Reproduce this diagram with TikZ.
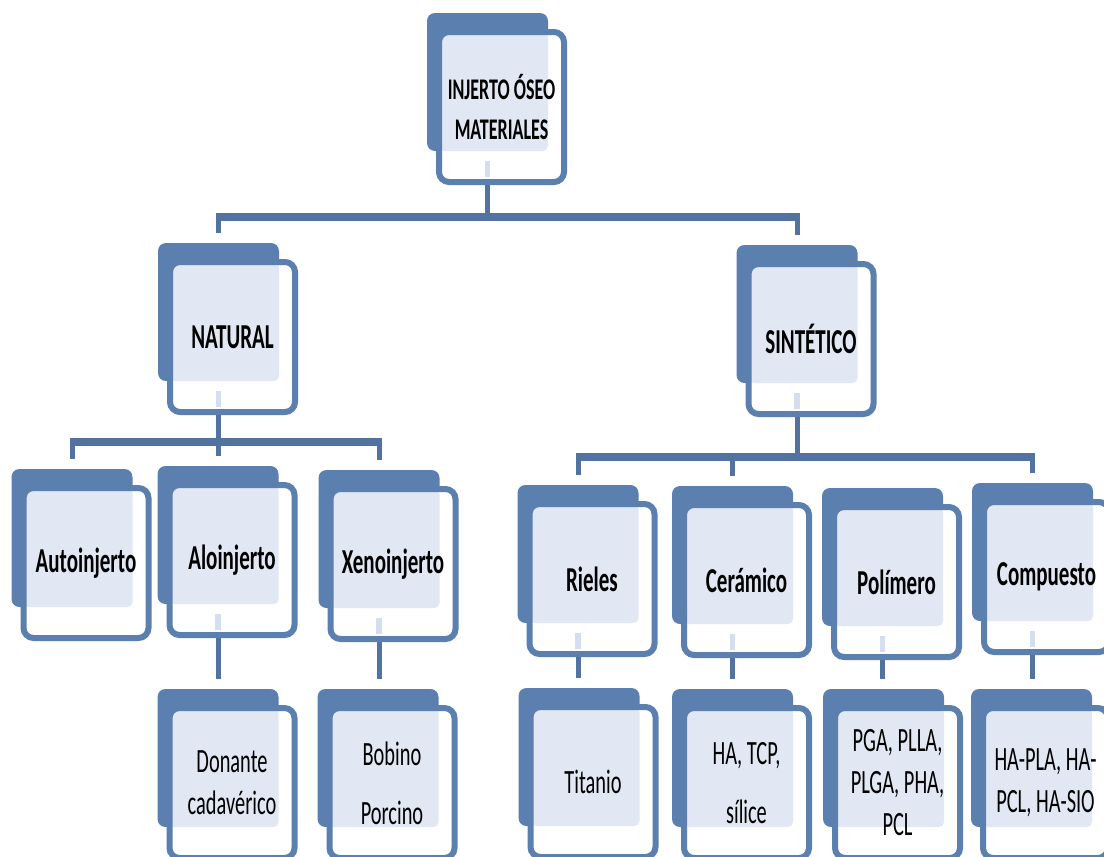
\documentclass[tikz,border=0pt]{standalone}
\usepackage{fontspec}
\setmainfont{Carlito}[FakeStretch=0.6]
\usetikzlibrary{positioning,calc}
\definecolor{ink}{HTML}{000000}
\definecolor{cardblue}{HTML}{5B7FAF}
\definecolor{linkblue}{HTML}{52739F}
\definecolor{cardfill}{HTML}{E1E7F3}
\definecolor{stubblue}{HTML}{D5DEEE}
\newcommand{\rootfont}{\bfseries\fontsize{30}{40}\selectfont}
\newcommand{\headfont}{\bfseries\fontsize{35}{43}\selectfont}
\newcommand{\leaffont}{\fontsize{34}{42}\selectfont}
\tikzset{
  every node/.style={text=ink},
  backcard/.style={
    fill=cardblue,
    rounded corners=8pt,
    minimum width=121pt,
    minimum height=138pt,
    inner sep=0pt
  },
  card/.style={
    draw=cardblue,
    fill=white,
    line width=6pt,
    rounded corners=10pt,
    minimum width=125pt,
    minimum height=150pt,
    inner sep=0pt,
    align=center,
    path picture={
      \fill[cardfill, rounded corners=5pt]
        (path picture bounding box.north west) rectangle
        ([xshift=-16pt, yshift=31pt]path picture bounding box.south east);
    }
  },
  head/.style={card, font=\headfont},
  leaf/.style={card, font=\leaffont},
  link/.style={draw=linkblue, line width=5pt},
  bar/.style={draw=linkblue, line width=8.5pt},
  stub/.style={draw=stubblue, line width=5.5pt}
}

\begin{document}
\begin{tikzpicture}[x=1pt, y=-1pt]
  \useasboundingbox (0,0) rectangle (1104,857);
  \clip (0,0) rectangle (1104,857);

  % Back plates
  \foreach \n/\x/\y in {root/487.5/82, nat/218.5/312, sin/797/314,
      auto/72/538, alo/218/535, xeno/379/539,
      riel/578/554, cer/732.5/555, pol/882.5/557, comp/1032.5/552,
      don/218/758, bob/378/758, tit/579/757, hat/732.5/758, pga/883.5/758, hapla/1031.5/758}
    \node[backcard] (\n B) at (\x,\y) {};

  % Front cards
  \node[card, font=\rootfont] (root) at ($(rootB)+(14,25)$) {INJERTO ÓSEO\\MATERIALES};
  \node[head] (nat) at ($(natB)+(14,25)$) {NATURAL};
  \node[head] (sin) at ($(sinB)+(14,25)$) {SINTÉTICO};

  \node[head] (auto) at ($(autoB)+(14,25)$) {Autoinjerto};
  \node[head] (alo) at ($(aloB)+(14,25)$) {Aloinjerto};
  \node[head] (xeno) at ($(xenoB)+(14,25)$) {Xenoinjerto};
  \node[head] (riel) at ($(rielB)+(14,25)$) {Rieles};
  \node[head] (cer) at ($(cerB)+(14,25)$) {Cerámico};
  \node[head] (pol) at ($(polB)+(14,25)$) {Polímero};
  \node[head] (comp) at ($(compB)+(14,25)$) {Compuesto};

  \node[leaf] (don) at ($(donB)+(14,25)$) {Donante\\cadavérico};
  \node[leaf] (bob) at ($(bobB)+(14,25)$) {Bobino\\[17pt]Porcino};
  \node[leaf] (tit) at ($(titB)+(14,25)$) {Titanio};
  \node[leaf] (hat) at ($(hatB)+(14,25)$) {HA, TCP,\\[17pt]sílice};
  \node[leaf] (pga) at ($(pgaB)+(14,25)$) {PGA, PLLA,\\PLGA, PHA,\\PCL};
  \node[leaf] (hapla) at ($(haplaB)+(14,25)$) {HA-PLA, HA-\\PCL, HA-SIO};

  % Faint stubs inside the cards
  \foreach \n in {root,nat,sin,alo,xeno,riel,cer,pol,comp}
    \draw[stub] ($(\n B.south)+(0,10)$) -- ($(\n B |- \n.south)+(0,-8)$);

  % Links
  \coordinate (rootBar) at (487,217);
  \coordinate (natBar) at (219,442);
  \coordinate (sinBar) at (797,457);

  \draw[link] (rootB |- root.south) -- (rootB |- rootBar);
  \draw[bar] ($(natB |- rootBar)+(-2.5,0)$) -- ($(sinB |- rootBar)+(2.5,0)$);
  \draw[link, shorten >=10pt] (natB |- rootBar) -- (natB.north);
  \draw[link, shorten >=10pt] (sinB |- rootBar) -- (sinB.north);

  \draw[link] (natB |- nat.south) -- (natB |- natBar);
  \draw[bar] ($(autoB |- natBar)+(-2.5,0)$) -- ($(xenoB |- natBar)+(2.5,0)$);
  \foreach \c in {auto,alo,xeno}
    \draw[link, shorten >=10pt] (\c B |- natBar) -- (\c B.north);

  \draw[link] (sinB |- sin.south) -- (sinB |- sinBar);
  \draw[bar] ($(rielB |- sinBar)+(-2.5,0)$) -- ($(compB |- sinBar)+(2.5,0)$);
  \foreach \c in {riel,cer,comp}
    \draw[link, shorten >=10pt] (\c B |- sinBar) -- (\c B.north);

  \foreach \p/\c in {alo/don, xeno/bob, riel/tit, cer/hat, pol/pga, comp/hapla}
    \draw[link, shorten >=10pt] (\p B |- \p.south) -- (\p B |- \c B.north);
\end{tikzpicture}
\end{document}
